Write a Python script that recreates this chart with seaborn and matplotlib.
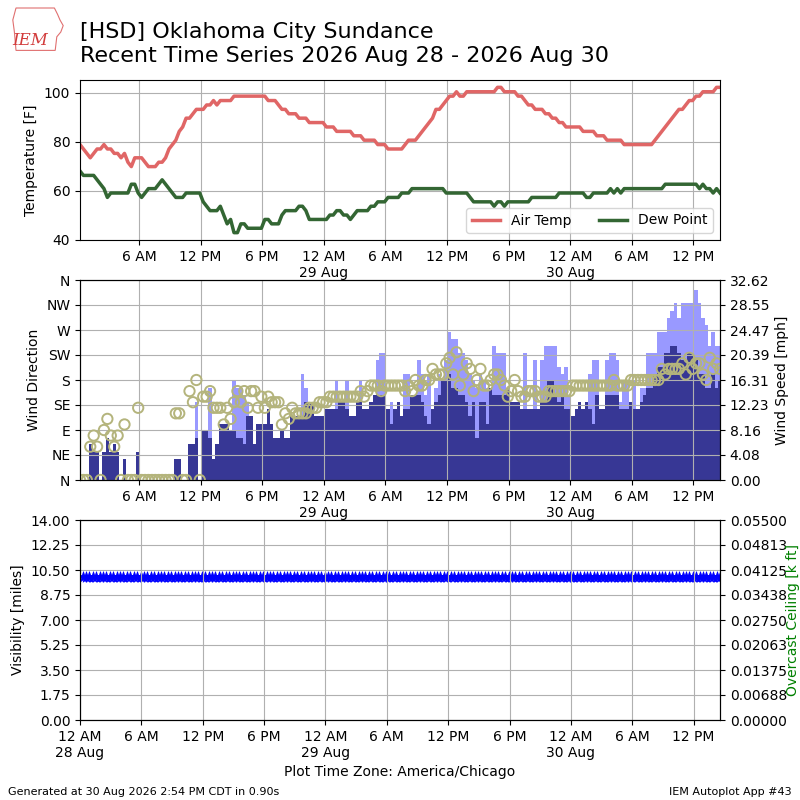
import numpy as np
import pandas as pd
import matplotlib
matplotlib.use("Agg")
import matplotlib.pyplot as plt
from matplotlib.patches import Polygon
from matplotlib.ticker import FormatStrFormatter
import seaborn as sns

# observations every 20 minutes, 00:15 28 Aug -> 14:35 30 Aug (hours since 00:00 28 Aug)
obs_hours = np.arange(0.25, 62.6, 1.0 / 3.0)

# one row per hour (obs at :15, :35, :55)
air_temp = [
    78.8, 77.0, 75.2, 73.4, 75.2, 77.0, 77.0, 78.8, 77.0, 77.0, 75.2, 75.2,
    73.4, 75.2, 71.6, 69.8, 73.4, 73.4, 73.4, 71.6, 69.8, 69.8, 69.8, 71.6,
    71.6, 73.4, 77.0, 78.8, 80.6, 84.2, 86.0, 89.6, 89.6, 91.4, 93.2, 93.2,
    93.2, 95.0, 95.0, 96.8, 95.0, 96.8, 96.8, 96.8, 96.8, 98.6, 98.6, 98.6,
    98.6, 98.6, 98.6, 98.6, 98.6, 98.6, 98.6, 96.8, 96.8, 96.8, 95.0, 93.2,
    93.2, 91.4, 91.4, 91.4, 89.6, 89.6, 89.6, 87.8, 87.8, 87.8, 87.8, 87.8,
    86.0, 86.0, 86.0, 84.2, 84.2, 84.2, 84.2, 84.2, 82.4, 82.4, 82.4, 80.6,
    80.6, 80.6, 80.6, 78.8, 78.8, 78.8, 77.0, 77.0, 77.0, 77.0, 77.0, 78.8,
    80.6, 80.6, 80.6, 82.4, 84.2, 86.0, 87.8, 89.6, 93.2, 93.2, 95.0, 96.8,
    98.6, 98.6, 100.4, 98.6, 98.6, 100.4, 100.4, 100.4, 100.4, 100.4, 100.4, 100.4,
    100.4, 100.4, 102.2, 102.2, 100.4, 100.4, 100.4, 100.4, 98.6, 98.6, 96.8, 95.0,
    95.0, 93.2, 93.2, 93.2, 91.4, 91.4, 89.6, 89.6, 87.8, 87.8, 86.0, 86.0,
    86.0, 86.0, 86.0, 84.2, 84.2, 84.2, 84.2, 82.4, 82.4, 82.4, 80.6, 80.6,
    80.6, 80.6, 80.6, 78.8, 78.8, 78.8, 78.8, 78.8, 78.8, 78.8, 78.8, 78.8,
    80.6, 82.4, 84.2, 86.0, 87.8, 89.6, 91.4, 93.2, 93.2, 95.0, 96.8, 96.8,
    98.6, 98.6, 100.4, 100.4, 100.4, 100.4, 102.2, 102.2,
]
dew_point = [
    68.0, 66.2, 66.2, 66.2, 66.2, 64.4, 62.6, 60.8, 57.2, 59.0, 59.0, 59.0,
    59.0, 59.0, 59.0, 62.6, 62.6, 59.0, 57.2, 59.0, 60.8, 60.8, 60.8, 62.6,
    64.4, 62.6, 60.8, 59.0, 57.2, 57.2, 57.2, 59.0, 59.0, 59.0, 59.0, 59.0,
    55.4, 53.6, 51.8, 51.8, 51.8, 53.6, 50.0, 46.4, 48.2, 42.8, 42.8, 46.4,
    46.4, 44.6, 44.6, 44.6, 44.6, 44.6, 48.2, 48.2, 46.4, 46.4, 46.4, 50.0,
    51.8, 51.8, 51.8, 51.8, 53.6, 53.6, 51.8, 48.2, 48.2, 48.2, 48.2, 48.2,
    48.2, 50.0, 50.0, 51.8, 51.8, 50.0, 50.0, 48.2, 50.0, 51.8, 51.8, 51.8,
    51.8, 53.6, 53.6, 55.4, 55.4, 55.4, 57.2, 57.2, 57.2, 57.2, 59.0, 59.0,
    59.0, 60.8, 60.8, 60.8, 60.8, 60.8, 60.8, 60.8, 60.8, 60.8, 60.8, 59.0,
    59.0, 59.0, 59.0, 59.0, 59.0, 59.0, 57.2, 55.4, 55.4, 55.4, 55.4, 55.4,
    55.4, 53.6, 55.4, 55.4, 53.6, 55.4, 55.4, 55.4, 55.4, 55.4, 55.4, 55.4,
    57.2, 57.2, 57.2, 57.2, 57.2, 57.2, 57.2, 57.2, 59.0, 59.0, 59.0, 59.0,
    59.0, 59.0, 59.0, 59.0, 57.2, 57.2, 59.0, 59.0, 59.0, 59.0, 59.0, 60.8,
    59.0, 60.8, 59.0, 60.8, 60.8, 60.8, 60.8, 60.8, 60.8, 60.8, 60.8, 60.8,
    60.8, 60.8, 60.8, 62.6, 62.6, 62.6, 62.6, 62.6, 62.6, 62.6, 62.6, 62.6,
    62.6, 60.8, 62.6, 60.8, 60.8, 59.0, 60.8, 59.0,
]
wind_speed = [
    0.0, 0.0, 0.0, 5.8, 4.6, 4.6, 0.0, 4.6, 6.9, 4.6, 5.8, 4.6,
    0.0, 3.5, 0.0, 0.0, 0.0, 4.6, 0.0, 0.0, 0.0, 0.0, 0.0, 0.0,
    0.0, 0.0, 0.0, 0.0, 3.5, 3.5, 0.0, 0.0, 5.8, 5.8, 6.9, 0.0,
    8.1, 8.1, 6.9, 3.5, 5.8, 9.2, 9.2, 9.2, 8.1, 8.1, 6.9, 6.9,
    5.8, 10.4, 10.4, 5.8, 9.2, 9.2, 9.2, 11.5, 9.2, 6.9, 6.9, 8.1,
    6.9, 6.9, 10.4, 10.4, 10.4, 10.4, 12.7, 12.7, 12.7, 10.4, 10.4, 10.4,
    11.5, 11.5, 11.5, 11.5, 12.7, 12.7, 11.5, 10.4, 10.4, 12.7, 12.7, 11.5,
    11.5, 12.7, 13.8, 13.8, 13.8, 13.8, 11.5, 9.2, 11.5, 12.7, 10.4, 11.5,
    11.5, 13.8, 13.8, 13.8, 12.7, 10.4, 9.2, 11.5, 12.7, 13.8, 16.1, 16.1,
    17.3, 15.0, 15.0, 13.8, 13.8, 12.7, 10.4, 12.7, 6.9, 12.7, 12.7, 9.2,
    15.0, 13.8, 13.8, 13.8, 13.8, 15.0, 12.7, 12.7, 12.7, 11.5, 11.5, 11.5,
    11.5, 11.5, 11.5, 12.7, 12.7, 16.1, 16.1, 13.8, 12.7, 13.8, 11.5, 11.5,
    10.4, 11.5, 12.7, 11.5, 12.7, 11.5, 9.2, 13.8, 11.5, 11.5, 13.8, 13.8,
    13.8, 13.8, 11.5, 11.5, 11.5, 12.7, 11.5, 11.5, 12.7, 13.8, 15.0, 15.0,
    17.3, 18.4, 18.4, 20.7, 20.7, 21.9, 21.9, 20.7, 19.6, 19.6, 20.7, 20.7,
    19.6, 17.3, 17.3, 15.0, 15.0, 17.3, 15.0, 16.1,
]
wind_gust = [
    0.0, 0.0, 0.0, 0.0, 0.0, 0.0, 0.0, 0.0, 0.0, 0.0, 0.0, 0.0,
    0.0, 0.0, 0.0, 0.0, 0.0, 0.0, 0.0, 0.0, 0.0, 0.0, 0.0, 0.0,
    0.0, 0.0, 0.0, 0.0, 0.0, 0.0, 0.0, 0.0, 0.0, 0.0, 12.7, 0.0,
    0.0, 0.0, 15.0, 0.0, 0.0, 0.0, 0.0, 0.0, 0.0, 16.1, 15.0, 15.0,
    13.8, 12.7, 0.0, 0.0, 0.0, 0.0, 0.0, 0.0, 0.0, 0.0, 0.0, 0.0,
    0.0, 0.0, 0.0, 0.0, 0.0, 17.3, 15.0, 0.0, 0.0, 0.0, 0.0, 0.0,
    0.0, 0.0, 0.0, 16.1, 0.0, 0.0, 16.1, 0.0, 0.0, 0.0, 16.1, 0.0,
    0.0, 0.0, 0.0, 19.6, 20.7, 20.7, 0.0, 12.7, 0.0, 0.0, 0.0, 17.3,
    17.3, 0.0, 0.0, 19.6, 17.3, 13.8, 17.3, 0.0, 15.0, 17.3, 0.0, 19.6,
    24.2, 23.0, 23.0, 20.7, 20.7, 19.6, 17.3, 16.1, 15.0, 17.3, 16.1, 15.0,
    0.0, 21.9, 20.7, 20.7, 20.7, 0.0, 0.0, 0.0, 0.0, 0.0, 20.7, 0.0,
    0.0, 19.6, 0.0, 19.6, 21.9, 21.9, 21.9, 21.9, 18.4, 17.3, 18.4, 13.8,
    0.0, 0.0, 0.0, 0.0, 0.0, 17.3, 19.6, 19.6, 0.0, 0.0, 19.6, 20.7,
    20.7, 19.6, 12.7, 16.1, 16.1, 0.0, 16.1, 0.0, 15.0, 15.0, 20.7, 20.7,
    20.7, 24.2, 24.2, 24.2, 26.5, 27.6, 28.8, 26.5, 28.8, 28.8, 28.8, 28.8,
    31.07, 28.8, 26.5, 25.3, 21.9, 24.2, 21.9, 21.9,
]
wind_dir = [
    0, 0, 0, 60, 80, 60, 0, 90, 110, 80, 60, 80,
    0, 100, 0, 0, 0, 130, 0, 0, 0, 0, 0, 0,
    0, 0, 0, 0, 120, 120, 0, 0, 160, 140, 180, 0,
    150, 150, 160, 130, 130, 130, 100, 130, 110, 140, 160, 140,
    160, 130, 160, 160, 130, 150, 130, 150, 140, 140, 140, 100,
    120, 110, 130, 120, 120, 120, 120, 130, 130, 130, 140, 140,
    140, 150, 150, 150, 150, 150, 150, 150, 150, 150, 160, 150,
    160, 170, 170, 170, 160, 170, 170, 170, 170, 170, 170, 160,
    170, 160, 180, 170, 170, 180, 180, 200, 190, 190, 190, 210,
    220, 190, 230, 170, 190, 210, 200, 160, 180, 200, 170, 170,
    180, 190, 190, 180, 170, 150, 160, 180, 160, 150, 150, 160,
    160, 160, 150, 150, 150, 160, 160, 160, 160, 160, 160, 160,
    170, 170, 170, 170, 170, 170, 170, 170, 170, 170, 170, 170,
    180, 170, 170, 170, 170, 180, 180, 180, 180, 180, 180, 180,
    180, 180, 200, 190, 200, 200, 200, 200, 210, 190, 220, 200,
    210, 210, 190, 180, 220, 200, 210, 200,
]
# every report shows 10 miles visibility, no overcast ceiling reported
visibility = [10.0] * len(obs_hours)

tick_hours = [0, 6, 12, 18, 24, 30, 36, 42, 48, 54, 60]
tick_labels = ["12 AM\n28 Aug", "6 AM", "12 PM", "6 PM", "12 AM\n29 Aug", "6 AM",
               "12 PM", "6 PM", "12 AM\n30 Aug", "6 AM", "12 PM"]
dir_labels = ["N", "NE", "E", "SE", "S", "SW", "W", "NW", "N"]


def poner_eje_tiempo(ax, inicio):
    """Ticks de hora local y limites del eje x (los limites despues de los ticks)."""
    ax.set_xticks(tick_hours)
    ax.set_xticklabels(tick_labels)
    ax.set_xlim(inicio, obs_hours[-1])
    ax.grid(True)


def dibujar_logo(fig):
    """Contorno rojo con el texto IEM arriba a la izquierda."""
    contorno = [(0.020, 0.990), (0.068, 0.990), (0.072, 0.982), (0.075, 0.975),
                (0.079, 0.968), (0.076, 0.960), (0.071, 0.954), (0.069, 0.937),
                (0.020, 0.937), (0.018, 0.960), (0.016, 0.975)]
    fig.patches.append(Polygon(contorno, closed=True, fill=False,
                               edgecolor="#e07070", linewidth=0.8,
                               transform=fig.transFigure, figure=fig))
    fig.text(0.038, 0.944, "IEM", color="#d23c3c", fontsize=12,
             fontstyle="italic", family="serif", ha="center")


def main():
    datos = pd.DataFrame({
        "hour": obs_hours, "tmpf": air_temp, "dwpf": dew_point,
        "sped": wind_speed, "gust": wind_gust, "drct": wind_dir,
        "vsby": visibility,
    })

    fig = plt.figure(figsize=(8, 8), dpi=100)

    # temperature panel
    ax1 = fig.add_axes([0.1, 0.7, 0.8, 0.2])
    sns.lineplot(data=datos, x="hour", y="tmpf", ax=ax1, color="#e06666",
                 linewidth=2.5, label="Air Temp")
    sns.lineplot(data=datos, x="hour", y="dwpf", ax=ax1, color="#336633",
                 linewidth=2.5, label="Dew Point")
    ax1.set_ylim(39.8, 105.2)
    ax1.set_yticks([40, 60, 80, 100])
    ax1.set_ylabel("Temperature [F]")
    ax1.set_xlabel("")
    poner_eje_tiempo(ax1, obs_hours[0])
    ax1.legend(loc="lower right", ncol=2)

    # wind panel: speed bars on the right axis, direction circles on the left
    ax2 = fig.add_axes([0.1, 0.4, 0.8, 0.25])
    sns.barplot(data=datos, x="hour", y="gust", native_scale=True, orient="x",
                ax=ax2, color="#9999ff", saturation=1, width=1.0,
                errorbar=None, linewidth=0)
    sns.barplot(data=datos, x="hour", y="sped", native_scale=True, orient="x",
                ax=ax2, color="#373795", saturation=1, width=1.0,
                errorbar=None, linewidth=0)
    ax2b = ax2.twinx()
    sns.scatterplot(data=datos, x="hour", y="drct", ax=ax2b, marker="o", s=55,
                    facecolor="none", edgecolor="#b4b47c", linewidth=1.4)

    tope = max(wind_gust) * 1.05
    ax2.set_ylim(0, tope)
    ax2.set_yticks(np.linspace(0, tope, 9))
    ax2.yaxis.set_major_formatter(FormatStrFormatter("%.2f"))
    ax2.set_xlabel("")
    poner_eje_tiempo(ax2, obs_hours[0])

    ax2b.set_ylim(0, 360)
    ax2b.set_yticks(range(0, 361, 45))
    ax2b.set_yticklabels(dir_labels)
    ax2b.set_xlim(obs_hours[0], obs_hours[-1])

    # twinx moves the ticks, so the sides are set at the end
    ax2.yaxis.tick_right()
    ax2.yaxis.set_label_position("right")
    ax2.set_ylabel("Wind Speed [mph]")
    ax2b.yaxis.tick_left()
    ax2b.yaxis.set_label_position("left")
    ax2b.set_ylabel("Wind Direction")

    # visibility panel
    ax3 = fig.add_axes([0.1, 0.1, 0.8, 0.25])
    sns.scatterplot(data=datos, x="hour", y="vsby", ax=ax3, marker="*", s=70,
                    color="blue", edgecolor="blue", linewidth=0.5)
    ax3.set_ylim(0, 14)
    ax3.set_yticks(np.linspace(0, 14, 9))
    ax3.yaxis.set_major_formatter(FormatStrFormatter("%.2f"))
    ax3.set_ylabel("Visibility [miles]")
    poner_eje_tiempo(ax3, 0)
    ax3.set_xlabel("Plot Time Zone: America/Chicago")

    ax3b = ax3.twinx()
    ax3b.set_ylim(0, 0.055)
    ax3b.set_yticks(np.linspace(0, 0.055, 9))
    ax3b.yaxis.set_major_formatter(FormatStrFormatter("%.5f"))
    ax3b.set_ylabel("Overcast Ceiling [k ft]", color="green", labelpad=-1)

    fig.text(0.1, 0.972, "[HSD] Oklahoma City Sundance\n"
             "Recent Time Series 2026 Aug 28 - 2026 Aug 30",
             fontsize=16, va="top", ha="left")
    dibujar_logo(fig)
    fig.text(0.01, 0.006, "Generated at 30 Aug 2026 2:54 PM CDT in 0.90s",
             fontsize=8)
    fig.text(0.99, 0.006, "IEM Autoplot App #43", fontsize=8, ha="right")

    fig.savefig("out.png", dpi=100)


if __name__ == "__main__":
    main()
